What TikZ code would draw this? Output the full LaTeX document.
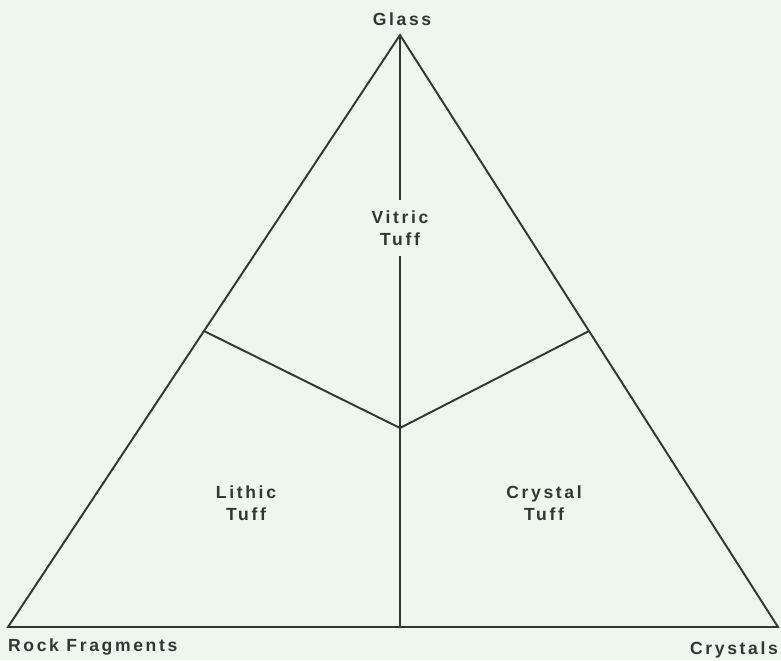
\documentclass[tikz,border=0pt]{standalone}
\usepackage{fontspec}
\setmainfont{Liberation Sans}[LetterSpace=15]
\usepackage{xcolor}
\usepackage{tikz}
\usetikzlibrary{calc,positioning}
\definecolor{paper}{RGB}{238,246,238}
\definecolor{ink}{RGB}{50,54,52}

\begin{document}
\begin{tikzpicture}[x=0.02cm,y=-0.02cm,
  edge/.style={draw=ink,line width=1.1pt,line join=miter},
  lbl/.style={font=\fontsize{10}{12.5}\selectfont\bfseries,text=ink,align=center,inner sep=1pt}]
 \fill[paper] (0,0) rectangle (781,660);
 \useasboundingbox (0,0) rectangle (781,660);
 % corners of the triangle
 \coordinate (top) at (400,35);
 \coordinate (bl)  at (8,627);
 \coordinate (br)  at (778,627);
 \coordinate (ctr) at (400,428);
 \coordinate (bot) at (400,627);
 \coordinate (lmid) at ($(top)!0.5!(bl)$);
 \coordinate (rmid) at ($(top)!0.5!(br)$);
 % field names
 \node[lbl,inner ysep=6pt] (vitric) at (400,228) {Vitric\\Tuff};
 \node[lbl] (lithic) at (246,503) {Lithic\\Tuff};
 \node[lbl] (crystal) at (544,503) {Crystal\\Tuff};
 % apex names
 \node[lbl] (glass) at (402,19) {Glass};
 \node[lbl,anchor=west] (rock) at (6,647) {Rock Fragments};
 \node[lbl,anchor=east] (cryst) at (780,650) {Crystals};
 % boundaries
 \draw[edge] (top)--(bl)--(br)--cycle;
 \draw[edge] (top)--(vitric.north);
 \draw[edge] (vitric.south)--(bot);
 \draw[edge] (lmid)--(ctr)--(rmid);
\end{tikzpicture}
\end{document}
